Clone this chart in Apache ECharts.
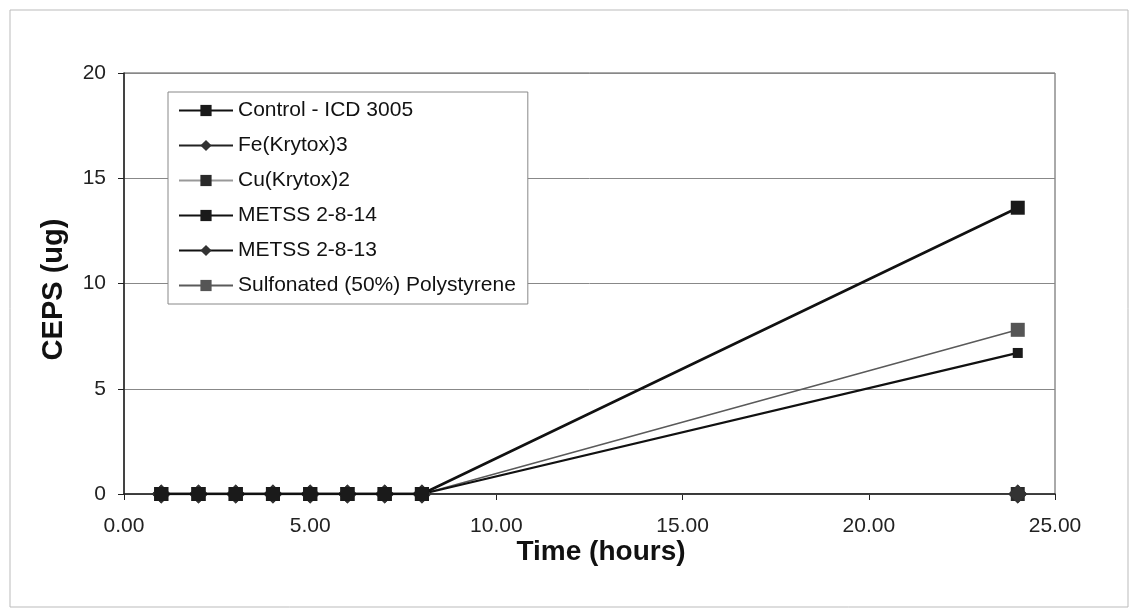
<!DOCTYPE html>
<html><head><meta charset="utf-8">
<script src="https://cdn.jsdelivr.net/npm/echarts@6/dist/echarts.min.js"></script>
<style>html,body{margin:0;padding:0;background:#fff}#c{width:1138px;height:612px}</style>
</head><body><div id="c"></div>
<script>
const hours = [1, 2, 3, 4, 5, 6, 7, 8, 24];
const seriesNames = ['Control - ICD 3005', 'Fe(Krytox)3', 'Cu(Krytox)2', 'METSS 2-8-14', 'METSS 2-8-13', 'Sulfonated (50%) Polystyrene'];
const control = [0, 0, 0, 0, 0, 0, 0, 0, 13.6];
const feKrytox = [0, 0, 0, 0, 0, 0, 0, 0, 0];
const cuKrytox = [0, 0, 0, 0, 0, 0, 0, 0, 0];
const metss14 = [0, 0, 0, 0, 0, 0, 0, 0, 6.7];
const metss13 = [0, 0, 0, 0, 0, 0, 0, 0, 0];
const sulfonated = [0, 0, 0, 0, 0, 0, 0, 0, 7.8];
const yTicks = [0, 5, 10, 15, 20];
const xTicks = [0, 5, 10, 15, 20, 25];

const values = [control, feKrytox, cuKrytox, metss14, metss13, sulfonated];
const styles = [
  {line: '#111', mark: '#1a1a1a', w: 2.6, sym: 'rect', size: 14},
  {line: '#222', mark: '#333', w: 1.6, sym: 'diamond', size: 19},
  {line: '#999', mark: '#2a2a2a', w: 1.6, sym: 'rect', size: 14},
  {line: '#111', mark: '#1a1a1a', w: 2.3, sym: 'rect', size: 10},
  {line: '#111', mark: '#333', w: 1.6, sym: 'diamond', size: 19},
  {line: '#5a5a5a', mark: '#555', w: 1.6, sym: 'rect', size: 14}
];
const series = seriesNames.map((n, i) => ({
  name: n, type: 'line',
  data: hours.map((h, j) => [h, values[i][j]]),
  symbol: styles[i].sym, symbolSize: styles[i].size, showAllSymbol: true,
  lineStyle: {color: styles[i].line, width: styles[i].w},
  itemStyle: {color: styles[i].mark},
  z: 10 - i
}));

const font = 'Liberation Sans, Arial, sans-serif';
const chart = echarts.init(document.getElementById('c'), null, {renderer: 'canvas'});
chart.setOption({
  animation: false,
  backgroundColor: '#fff',
  graphic: [{type: 'rect', shape: {x: 10, y: 10, width: 1118, height: 597},
    style: {fill: 'none', stroke: '#bbb', lineWidth: 1}, z: -1}],
  grid: {left: 124, right: 83, top: 73, bottom: 118, show: true, borderColor: '#555', borderWidth: 1},
  legend: {
    orient: 'vertical', left: 168, top: 92,
    itemWidth: 54, itemHeight: 14, itemGap: 14,
    padding: [8, 12, 8, 10],
    backgroundColor: '#fff', borderColor: '#888', borderWidth: 1,
    textStyle: {fontFamily: font, fontSize: 21, color: '#111'},
    data: seriesNames
  },
  xAxis: {
    type: 'value', min: 0, max: 25, interval: 5,
    name: 'Time (hours)', nameLocation: 'middle', nameGap: 44, nameMoveOverlap: false,
    nameTextStyle: {fontFamily: font, fontSize: 28, fontWeight: 'bold', color: '#111', padding: [0, 0, 0, 23]},
    axisLine: {show: true, lineStyle: {color: '#222', width: 1.5}},
    axisTick: {show: true, length: 6, lineStyle: {color: '#222'}},
    axisLabel: {fontFamily: font, fontSize: 21, color: '#222', margin: 22,
      formatter: v => xTicks.includes(v) ? v.toFixed(2) : ''},
    splitLine: {show: false}
  },
  yAxis: {
    type: 'value', min: 0, max: 20, interval: 5,
    name: 'CEPS (ug)', nameLocation: 'middle', nameGap: 56, nameRotate: 90, nameMoveOverlap: false,
    nameTextStyle: {fontFamily: font, fontSize: 29, fontWeight: 'bold', color: '#111', padding: [0, 12, 0, 0]},
    axisLine: {show: true, lineStyle: {color: '#222', width: 1.5}},
    axisTick: {show: true, length: 6, lineStyle: {color: '#222'}},
    axisLabel: {fontFamily: font, fontSize: 21, color: '#222', margin: 18,
      formatter: v => yTicks.includes(v) ? String(v) : ''},
    splitLine: {show: true, lineStyle: {color: '#888', width: 1}}
  },
  series: series
});
</script></body></html>
